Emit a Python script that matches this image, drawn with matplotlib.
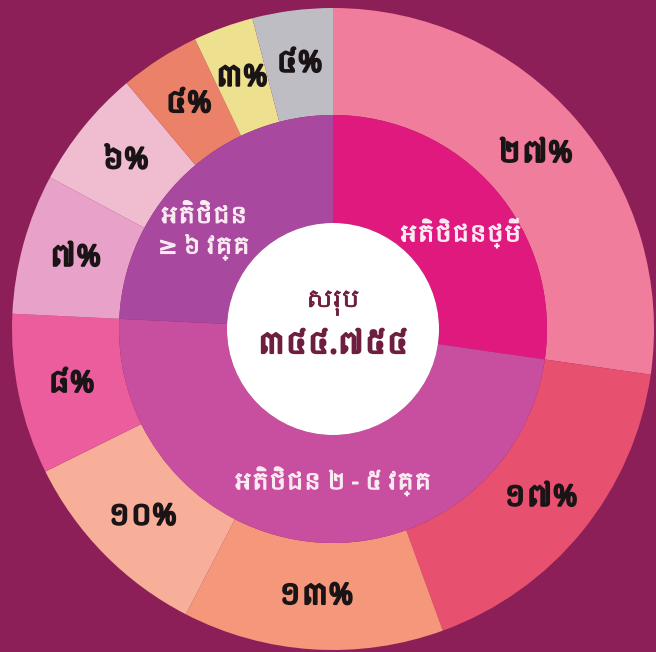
import matplotlib.pyplot as plt
import matplotlib.patheffects as pe
from matplotlib import font_manager
from matplotlib.patches import Circle
import numpy as np

# outer ring: share of customers (percent), clockwise from 12 o'clock
outer_values = [27, 17, 13, 10, 8, 7, 6, 4, 3, 4]
outer_colors = ["#F07D9B", "#E8506F", "#F4977B", "#F7AF99", "#EC5D9D",
                "#E8A1C9", "#F0BDD0", "#EC8169", "#EDE08F", "#BEBDC4"]

# inner ring: customer groups
inner_labels = ["អតិថិជនថ្មី", "អតិថិជន ២ - ៥ វគ្គ", "អតិថិជន\n≥ ៦ វគ្គ"]
inner_values = [27, 48, 24]
inner_colors = ["#E0197F", "#C84F9F", "#A8499F"]

total_title = "សរុប"
total_value = "៣៤៤.៧៥៤"

KHMER_DIGITS = "០១២៣៤៥៦៧៨៩"


def to_khmer(n):
    return "".join(KHMER_DIGITS[int(c)] for c in str(n))


def khmer_family():
    for f in font_manager.fontManager.ttflist:
        if "Khmer" in f.name:
            return f.name
    return "DejaVu Sans"


def heavy(color, lw):
    # thicken strokes, the Khmer face has no bold cut
    return [pe.withStroke(linewidth=lw, foreground=color)]


fam = [khmer_family(), "DejaVu Sans"]
plt.rcParams["font.family"] = fam

bg = "#8C1F57"
fig = plt.figure(figsize=(6.56, 6.52), dpi=100, facecolor=bg)
ax = fig.add_axes([0, 0, 1, 1])
ax.set_facecolor(bg)

cx, cy = 333, 323
r_out, r_mid, r_in = 321, 214, 106

# outer ring with percentage labels
ink = "#1A1416"
ax.pie(outer_values, colors=outer_colors, startangle=90, counterclock=False,
       radius=r_out, center=(cx, cy),
       wedgeprops=dict(width=r_out - r_mid, linewidth=0),
       autopct=lambda p: to_khmer(int(round(p))) + "%",
       pctdistance=(r_out + r_mid) / 2 / r_out,
       textprops=dict(fontsize=21, fontweight="bold", color=ink,
                      path_effects=heavy(ink, 1.6)))

# inner ring
wedges, _ = ax.pie(inner_values, colors=inner_colors, startangle=90,
                   counterclock=False, radius=r_mid, center=(cx, cy),
                   wedgeprops=dict(width=r_mid - r_in, linewidth=0))

# group names, nudged off the wedge middle
shifts = [-4, 5.5, 9.5]
radii = [160, 152, 161]
light = "#FBEAF2"
for w, name, s, rr in zip(wedges, inner_labels, shifts, radii):
    ang = np.deg2rad((w.theta1 + w.theta2) / 2 + s)
    ax.text(cx + rr * np.cos(ang), cy + rr * np.sin(ang), name,
            ha="center", va="center", color=light, fontsize=16.5,
            linespacing=1.35, path_effects=heavy(light, 0.8))

# white centre with the total
dark = "#6E1F40"
ax.add_patch(Circle((cx, cy), r_in, facecolor="white", linewidth=0))
ax.text(cx, cy + 26, total_title, ha="center", va="center",
        color=dark, fontsize=17, path_effects=heavy(dark, 0.6))
ax.text(cx, cy - 16, total_value, ha="center", va="center",
        color=dark, fontsize=21, fontweight="bold",
        path_effects=heavy(dark, 1.6))

ax.set_xlim(0, 656)
ax.set_ylim(0, 652)
ax.set_aspect("equal")
ax.axis("off")

fig.savefig("out.png", dpi=100, facecolor=bg)
